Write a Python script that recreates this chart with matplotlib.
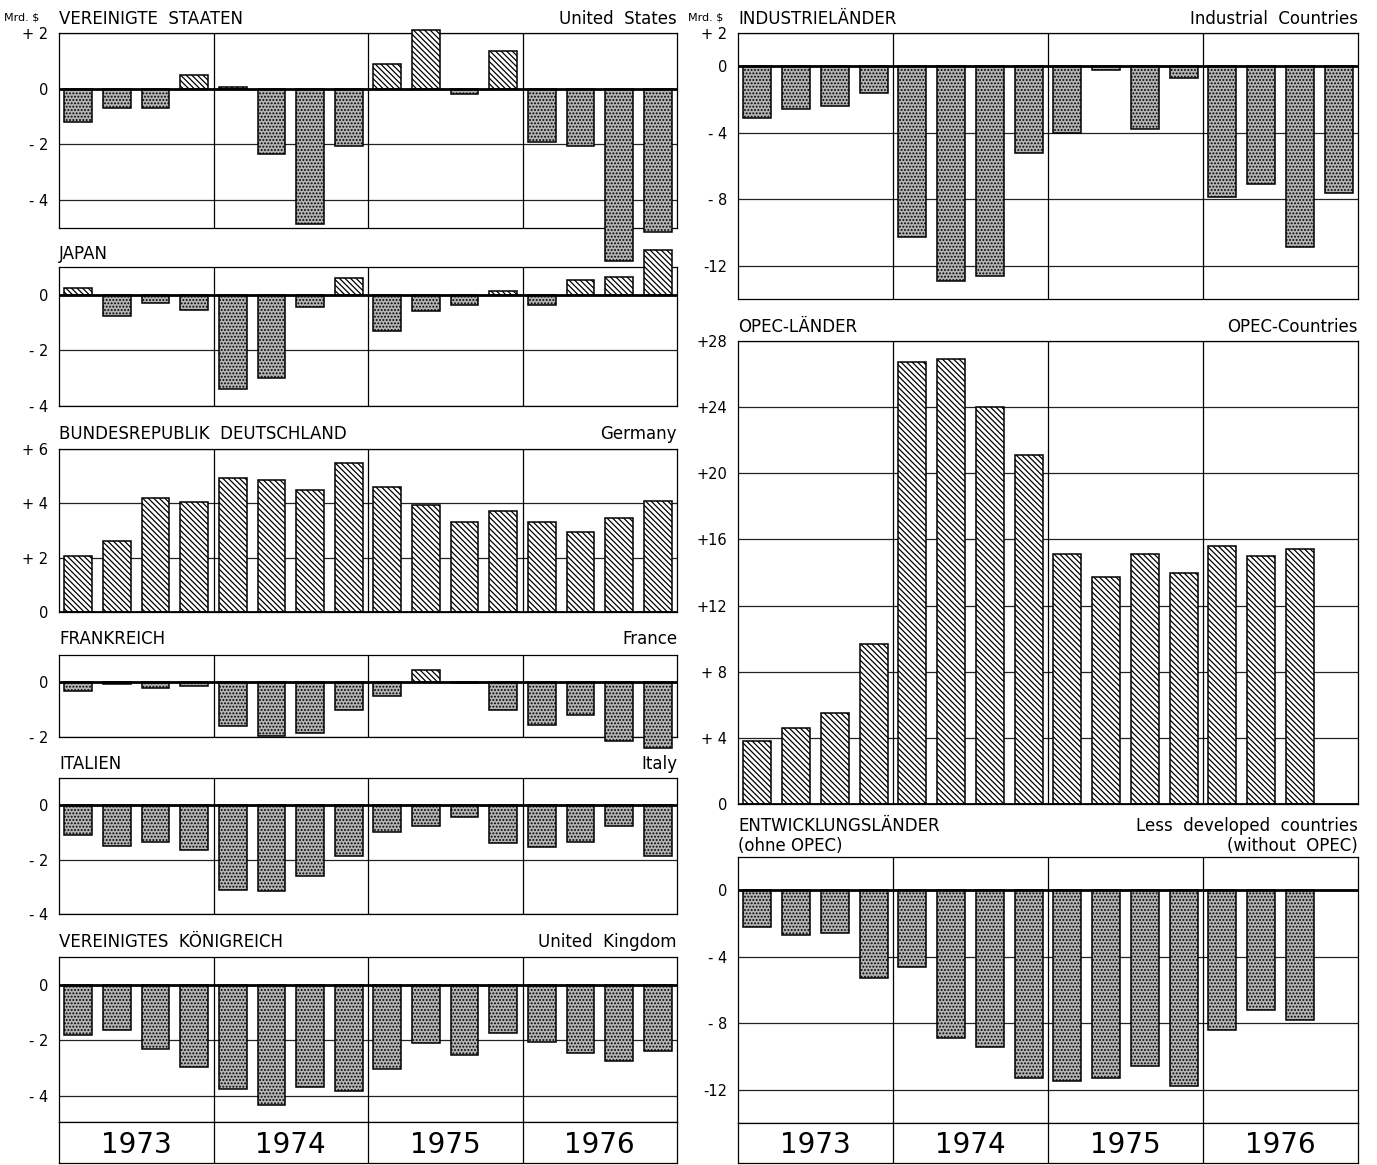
import numpy as np
import matplotlib
matplotlib.use("Agg")
import matplotlib.pyplot as plt

# current account balances, Mrd. $, quarterly 1973-1976
years = ["1973", "1974", "1975", "1976"]

usa = [-1.2, -0.7, -0.7, 0.5, 0.05, -2.35, -4.85, -2.05,
       0.9, 2.1, -0.2, 1.35, -1.9, -2.05, -6.2, -5.15]
japan = [0.25, -0.75, -0.3, -0.55, -3.4, -3.0, -0.45, 0.6,
         -1.3, -0.6, -0.35, 0.15, -0.35, 0.55, 0.65, 1.62]
germany = [2.05, 2.6, 4.2, 4.05, 4.95, 4.85, 4.5, 5.5,
           4.6, 3.95, 3.3, 3.7, 3.3, 2.95, 3.45, 4.1]
france = [-0.3, -0.05, -0.2, -0.15, -1.6, -1.95, -1.85, -1.0,
          -0.5, 0.45, -0.03, -1.0, -1.55, -1.2, -2.15, -2.4]
italy = [-1.1, -1.5, -1.35, -1.65, -3.1, -3.15, -2.6, -1.85,
         -1.0, -0.75, -0.45, -1.4, -1.55, -1.35, -0.75, -1.85]
uk = [-1.8, -1.65, -2.3, -2.95, -3.75, -4.35, -3.7, -3.85,
      -3.05, -2.1, -2.55, -1.75, -2.05, -2.45, -2.75, -2.4]
industrial = [-3.1, -2.6, -2.4, -1.6, -10.3, -12.9, -12.6, -5.2,
              -4.0, -0.2, -3.8, -0.7, -7.85, -7.1, -10.9, -7.6]
opec = [3.8, 4.6, 5.5, 9.7, 26.7, 26.9, 24.0, 21.1,
        15.1, 13.7, 15.1, 14.0, 15.6, 15.0, 15.4, np.nan]
ldc = [-2.2, -2.7, -2.6, -5.3, -4.6, -8.9, -9.4, -11.3,
       -11.5, -11.3, -10.6, -11.8, -8.4, -7.2, -7.8, np.nan]

W, H = 1377, 1165
plt.rcParams['font.family'] = ['DejaVu Sans']
plt.rcParams['hatch.linewidth'] = 0.9

fig = plt.figure(figsize=(W / 100, H / 100), dpi=100)


def box(x0, y0, x1, y1):
    return [x0 / W, 1 - y1 / H, (x1 - x0) / W, (y1 - y0) / H]


def panel(rect, vals, ylim, ticks, labels, clip=True):
    ax = fig.add_axes(box(*rect))
    x = np.arange(len(vals))
    v = np.array(vals, dtype=float)
    pos = np.where(v > 0, v, np.nan)
    neg = np.where(v <= 0, v, np.nan)
    ax.bar(x, pos, width=0.72, facecolor='white', edgecolor='black',
           hatch='\\\\\\\\\\\\', linewidth=1.1, zorder=3, clip_on=clip)
    ax.bar(x, neg, width=0.72, facecolor='#b4b4b4', edgecolor='black',
           hatch='.....', linewidth=1.1, zorder=3, clip_on=clip)
    ax.set_xlim(-0.5, 15.5)
    ax.set_ylim(*ylim)
    for t in ticks:
        if t == 0:
            ax.axhline(0, color='black', lw=2.0, zorder=4)
        else:
            ax.axhline(t, color='#222222', lw=0.9, zorder=1)
    for d in (3.5, 7.5, 11.5):
        ax.axvline(d, color='black', lw=0.9, zorder=1)
    ax.set_xticks([])
    ax.set_yticks(ticks, labels)
    ax.tick_params(axis='y', length=0, pad=8, labelsize=10.5)
    for s in ax.spines.values():
        s.set_linewidth(0.9)
    return ax


def year_row(rect):
    ax = fig.add_axes(box(*rect))
    ax.set_xlim(-0.5, 15.5)
    ax.set_ylim(0, 1)
    ax.set_xticks([])
    ax.set_yticks([])
    for d in (3.5, 7.5, 11.5):
        ax.axvline(d, color='black', lw=0.9)
    for i, y in enumerate(years):
        ax.text(1.5 + 4 * i, 0.45, y, ha='center', va='center', fontsize=20)
    for s in ax.spines.values():
        s.set_linewidth(0.9)


def titles(x0, x1, y, de, en):
    fig.text(x0 / W, 1 - y / H, de, ha='left', va='center', fontsize=12)
    fig.text(x1 / W, 1 - y / H, en, ha='right', va='center', fontsize=12)


# left column
L0, L1 = 59, 677
panel((L0, 33, L1, 228), usa, (-5, 2), [2, 0, -2, -4], ['+ 2', '0', '- 2', '- 4'], clip=False)
panel((L0, 267, L1, 406), japan, (-4, 1), [0, -2, -4], ['0', '- 2', '- 4'], clip=False)
panel((L0, 449, L1, 612), germany, (0, 6), [6, 4, 2, 0], ['+ 6', '+ 4', '+ 2', '0'])
panel((L0, 655, L1, 737), france, (-2, 1), [0, -2], ['0', '- 2'], clip=False)
panel((L0, 778, L1, 914), italy, (-4, 1), [0, -2, -4], ['0', '- 2', '- 4'])
panel((L0, 957, L1, 1122), uk, (-4.95, 1), [0, -2, -4], ['0', '- 2', '- 4'])
year_row((L0, 1122, L1, 1163))

titles(L0, L1, 19, 'VEREINIGTE  STAATEN', 'United  States')
titles(L0, L1, 254, 'JAPAN', '')
titles(L0, L1, 434, 'BUNDESREPUBLIK  DEUTSCHLAND', 'Germany')
titles(L0, L1, 639, 'FRANKREICH', 'France')
titles(L0, L1, 764, 'ITALIEN', 'Italy')
titles(L0, L1, 942, 'VEREINIGTES  KÖNIGREICH', 'United  Kingdom')
fig.text(4 / W, 1 - 18 / H, 'Mrd. $', ha='left', va='center', fontsize=8)

# right column
R0, R1 = 738, 1358
panel((R0, 33, R1, 299), industrial, (-14, 2), [2, 0, -4, -8, -12],
      ['+ 2', '0', '- 4', '- 8', '-12'])
panel((R0, 341, R1, 804), opec, (0, 28), [28, 24, 20, 16, 12, 8, 4, 0],
      ['+28', '+24', '+20', '+16', '+12', '+ 8', '+ 4', '0'])
panel((R0, 857, R1, 1123), ldc, (-14, 2), [0, -4, -8, -12], ['0', '- 4', '- 8', '-12'])
year_row((R0, 1123, R1, 1163))

titles(R0, R1, 19, 'INDUSTRIELÄNDER', 'Industrial  Countries')
titles(R0, R1, 327, 'OPEC-LÄNDER', 'OPEC-Countries')
titles(R0, R1, 826, 'ENTWICKLUNGSLÄNDER', 'Less  developed  countries')
titles(R0, R1, 846, '(ohne OPEC)', '(without  OPEC)')
fig.text(688 / W, 1 - 18 / H, 'Mrd. $', ha='left', va='center', fontsize=8)

fig.savefig('out.png', dpi=100)
